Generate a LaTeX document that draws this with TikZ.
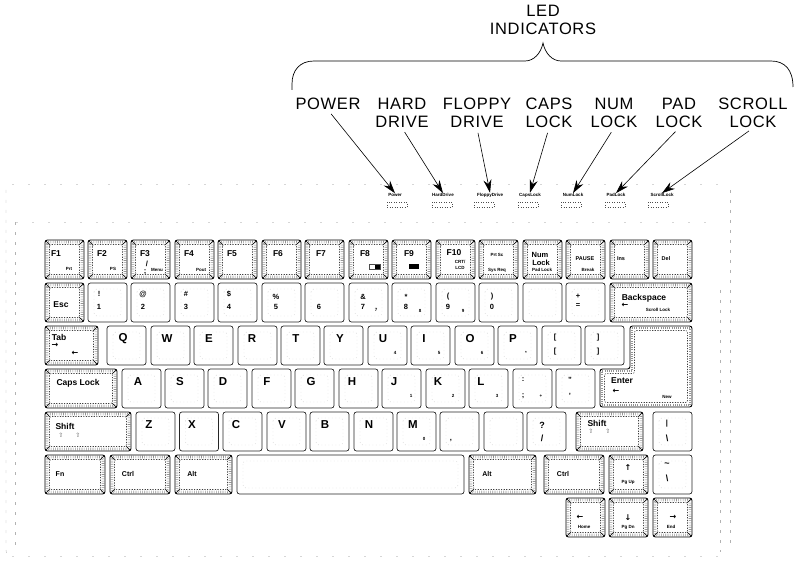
\documentclass[tikz,border=0pt]{standalone}
\usepackage{fontspec}
\setmainfont{Liberation Sans}
\newfontfamily\capsfont[LetterSpace=4]{Liberation Sans}
\newfontfamily\arrowfont{DejaVu Sans}
\usetikzlibrary{arrows.meta}
\tikzset{
  plainkey/.style={draw=black!85,line width=0.7pt,rounded corners=2.5pt,inner sep=0pt,minimum width=39pt,minimum height=39pt,
    path picture={
      \draw[black!18,line width=0.4pt,dash pattern=on 1pt off 2.5pt,rounded corners=3pt] ([shift={(6,6)}]path picture bounding box.north west) rectangle ([shift={(-6,-6)}]path picture bounding box.south east);
    }},
  hatchring/.style={black!42,line width=2.6pt,dash pattern=on 0.6pt off 1.6pt},
  hatchline/.style={black!75,line width=0.6pt,dash pattern=on 1.2pt off 1.4pt,rounded corners=2pt},
  hatchkey/.style={draw=black,line width=0.9pt,rounded corners=2.5pt,inner sep=0pt,minimum width=39pt,minimum height=39pt,
    path picture={
      \draw[hatchring] ([shift={(2,2)}]path picture bounding box.north west) rectangle ([shift={(-2,-2)}]path picture bounding box.south east);
      \draw[hatchline] ([shift={(4.5,4.5)}]path picture bounding box.north west) rectangle ([shift={(-4.5,-4.5)}]path picture bounding box.south east);
      \draw[black,line width=0.5pt] (path picture bounding box.north west) -- ([shift={(5,5)}]path picture bounding box.north west);
      \draw[black,line width=0.5pt] (path picture bounding box.north east) -- ([shift={(-5,5)}]path picture bounding box.north east);
      \draw[black,line width=0.5pt] (path picture bounding box.south west) -- ([shift={(5,-5)}]path picture bounding box.south west);
      \draw[black,line width=0.5pt] (path picture bounding box.south east) -- ([shift={(-5,-5)}]path picture bounding box.south east);
    }},
  toplabel/.style={font=\capsfont\fontsize{16.5}{18}\selectfont,align=center,inner sep=0pt},
  ledtext/.style={font=\bfseries\fontsize{4.5}{5}\selectfont,inner sep=0pt},
  ledbox/.style={draw=black!70,line width=0.5pt,dash pattern=on 1pt off 1.5pt,minimum width=20pt,minimum height=5pt,inner sep=0pt},
  ledarrow/.style={-{Stealth[length=13pt,width=8pt]},line width=0.6pt,shorten <=5pt},
  bodyline/.style={black!30,line width=0.4pt,dash pattern=on 3pt off 7pt},
  bodyfaint/.style={black!16,line width=0.4pt,dash pattern=on 2pt off 14pt},
  keytext/.style={font=\bfseries\fontsize{8.5}{9}\selectfont,inner sep=0pt},
  lettertext/.style={font=\bfseries\fontsize{11.5}{12}\selectfont,inner sep=0pt},
  digittext/.style={font=\bfseries\fontsize{7.5}{8}\selectfont,inner sep=0pt},
  subtext/.style={font=\bfseries\fontsize{4.5}{5}\selectfont,inner sep=0pt},
  glyph/.style={font=\arrowfont\bfseries\fontsize{8}{8}\selectfont,inner sep=0pt},
  shiftglyph/.style={font=\arrowfont\fontsize{6}{7}\selectfont,text=black!60,inner sep=0pt},
}
\begin{document}
\begin{tikzpicture}[x=1pt,y=-1pt]
    \useasboundingbox (0,0) rectangle (807,564);
    % casing
    \draw[bodyline] (6,190) -- (6,550) .. controls (6,554) and (8,556) .. (12,556);
    \draw[bodyline] (730,190) -- (730,550);
    \draw[bodyline] (15,222) -- (15,550);
    \draw[bodyline] (720,290) -- (720,552);
    \draw[bodyfaint] (12,556) -- (726,556);
    \draw[bodyfaint] (12,184) -- (724,184);
    \draw[bodyfaint] (16,222) -- (720,222);
    % indicator heading
    \node (ledhead) at (543,20) [toplabel] {LED\\INDICATORS};
    \draw[line width=0.7pt] (292,90) -- (292,84) .. controls (292,70) and (300,61) .. (314,61) -- (525,61) .. controls (534,61) and (541,53) .. (543,43) .. controls (545,53) and (552,61) .. (561,61) -- (771,61) .. controls (785,61) and (793,70) .. (793,87);
    \node (powerlbl) at (328,104) [toplabel] {POWER};
    \node (hardlbl) at (402,113) [toplabel] {HARD\\DRIVE};
    \node (floppylbl) at (477,113) [toplabel] {FLOPPY\\DRIVE};
    \node (capslbl) at (549,113) [toplabel] {CAPS\\LOCK};
    \node (numlbl) at (614,113) [toplabel] {NUM\\LOCK};
    \node (padlbl) at (679,113) [toplabel] {PAD\\LOCK};
    \node (scrolllbl) at (753,113) [toplabel] {SCROLL\\LOCK};
    \node (powertxt) at (395,195) [ledtext] {Power};
    \node (hardtxt) at (443,195) [ledtext] {HardDrive};
    \node (floppytxt) at (490,195) [ledtext] {FloppyDrive};
    \node (capstxt) at (530,195) [ledtext] {CapsLock};
    \node (numtxt) at (573,195) [ledtext] {NumLock};
    \node (padtxt) at (616,195) [ledtext] {PadLock};
    \node (scrolltxt) at (662,195) [ledtext] {ScrollLock};
    \node (powerled) at (397,205) [ledbox] {};
    \node (hardled) at (442,205) [ledbox] {};
    \node (floppyled) at (484,205) [ledbox] {};
    \node (capsled) at (528,205) [ledbox] {};
    \node (numled) at (571,205) [ledbox] {};
    \node (padled) at (615,205) [ledbox] {};
    \node (scrollled) at (658,205) [ledbox] {};
    \draw[ledarrow] (powerlbl.south) -- (powertxt.north);
    \draw[ledarrow] (hardlbl.south) -- (hardtxt.north);
    \draw[ledarrow] (floppylbl.south) -- (floppytxt.north);
    \draw[ledarrow] (capslbl.south) -- (capstxt.north);
    \draw[ledarrow] (numlbl.south) -- (numtxt.north);
    \draw[ledarrow] (padlbl.south) -- (padtxt.north);
    \draw[ledarrow] (scrolllbl.south) -- (scrolltxt.north);
    % function row
    \node (f1) at (64.5,259.5) [hatchkey] {};
    \node (f2) at (107.5,259.5) [hatchkey] {};
    \node (f3) at (150.5,259.5) [hatchkey] {};
    \node (f4) at (194.5,259.5) [hatchkey] {};
    \node (f5) at (237.5,259.5) [hatchkey] {};
    \node (f6) at (281.5,259.5) [hatchkey] {};
    \node (f7) at (324.5,259.5) [hatchkey] {};
    \node (f8) at (368.5,259.5) [hatchkey] {};
    \node (f9) at (411.5,259.5) [hatchkey] {};
    \node (f10) at (455.5,259.5) [hatchkey] {};
    \node (prt) at (498.5,259.5) [hatchkey] {};
    \node (num) at (542.5,259.5) [hatchkey] {};
    \node (pause) at (585.5,259.5) [hatchkey] {};
    \node (ins) at (629.5,259.5) [hatchkey] {};
    \node (del) at (672.5,259.5) [hatchkey] {};
    \node (f1t) at (56,254) [keytext] {F1};
    \node (f1s) at (69,269) [subtext] {Prt};
    \node (f2t) at (102,254) [keytext] {F2};
    \node (f2s) at (113,269) [subtext] {PS};
    \node (f3t) at (145,254) [keytext] {F3};
    \node (f3a) at (147,264) [digittext] {/};
    \node (f3b) at (145,272) [digittext] {;};
    \node (f3s) at (157,270) [subtext] {Menu};
    \node (f4t) at (189,254) [keytext] {F4};
    \node (f4s) at (201,270) [subtext] {Pout};
    \node (f5t) at (232,254) [keytext] {F5};
    \node (f6t) at (278,254) [keytext] {F6};
    \node (f7t) at (321,254) [keytext] {F7};
    \node (f8t) at (365,254) [keytext] {F8};
    \node (f9t) at (409,254) [keytext] {F9};
    \node (f10t) at (454,253) [keytext] {F10};
    \node (f10a) at (460,262) [subtext] {CRT/};
    \node (f10b) at (460,268) [subtext] {LCD};
    \node (f8box) at (375,267) [draw=black!70,line width=0.5pt,minimum width=11pt,minimum height=5pt,inner sep=0pt,path picture={\fill[black] (path picture bounding box.north) rectangle (path picture bounding box.south east);}] {};
    \node (f9box) at (414,267) [fill=black,minimum width=10pt,minimum height=5pt,inner sep=0pt] {};
    \node (prtt) at (497,255) [subtext] {Prt Sc};
    \node (prts) at (497,270) [subtext] {Sys Req};
    \node (numt) at (540,255) [digittext] {Num};
    \node (numb) at (541,263) [digittext] {Lock};
    \node (nums) at (542,270) [subtext] {Pad Lock};
    \node (pauset) at (585,259) [subtext,font=\bfseries\fontsize{5.5}{6}\selectfont] {PAUSE};
    \node (pauses) at (588,270) [subtext] {Break};
    \node (inst) at (621,259) [subtext,font=\bfseries\fontsize{5.5}{6}\selectfont] {Ins};
    \node (delt) at (666,259) [subtext,font=\bfseries\fontsize{5.5}{6}\selectfont] {Del};
    % number row
    \node (esc) at (64.5,302.5) [hatchkey] {};
    \node (k1) at (107.5,302.5) [plainkey] {};
    \node (k2) at (150.5,302.5) [plainkey] {};
    \node (k3) at (194.5,302.5) [plainkey] {};
    \node (k4) at (237.5,302.5) [plainkey] {};
    \node (k5) at (281.5,302.5) [plainkey] {};
    \node (k6) at (324.5,302.5) [plainkey] {};
    \node (k7) at (368.5,302.5) [plainkey] {};
    \node (k8) at (411.5,302.5) [plainkey] {};
    \node (k9) at (455.5,302.5) [plainkey] {};
    \node (k0) at (498.5,302.5) [plainkey] {};
    \node (minus) at (542.5,302.5) [plainkey] {};
    \node (plus) at (585.5,302.5) [plainkey] {};
    \node (back) at (651,302.5) [hatchkey,minimum width=82pt] {};
    \node (esct) at (61,305) [keytext] {Esc};
    \node (k1a) at (99,294) [digittext] {!};
    \node (k1b) at (99,307) [digittext] {1};
    \node (k2a) at (143,294) [digittext] {@};
    \node (k2b) at (143,307) [digittext] {2};
    \node (k3a) at (186,294) [digittext] {\#};
    \node (k3b) at (186,307) [digittext] {3};
    \node (k4a) at (229,294) [digittext] {\$};
    \node (k4b) at (229,307) [digittext] {4};
    \node (k5a) at (276,297) [digittext] {\%};
    \node (k5b) at (276,307) [digittext] {5};
    \node (k6b) at (319,307) [digittext] {6};
    \node (k7a) at (363,297) [digittext] {\&};
    \node (k7b) at (363,307) [digittext] {7};
    \node (k7s) at (376,310) [subtext] {7};
    \node (k8a) at (406,297) [digittext] {*};
    \node (k8b) at (406,307) [digittext] {8};
    \node (k8s) at (420,311) [subtext] {8};
    \node (k9a) at (448,297) [digittext] {(};
    \node (k9b) at (448,307) [digittext] {9};
    \node (k9s) at (463,311) [subtext] {9};
    \node (k0a) at (492,297) [digittext] {)};
    \node (k0b) at (492,307) [digittext] {0};
    \node (plusa) at (578,296) [digittext] {+};
    \node (plusb) at (578,306) [digittext] {=};
    \node (backt) at (644,298) [keytext] {Backspace};
    \node (backa) at (625,305) [glyph] {←};
    \node (backs) at (658,310) [subtext] {Scroll Lock};
    % top letter row
    \node (tab) at (71.5,345.5) [hatchkey,minimum width=53pt] {};
    \node (q) at (126.5,345.5) [plainkey] {};
    \node (w) at (170.5,345.5) [plainkey] {};
    \node (e) at (213.5,345.5) [plainkey] {};
    \node (r) at (257.5,345.5) [plainkey] {};
    \node (t) at (300.5,345.5) [plainkey] {};
    \node (y) at (343.5,345.5) [plainkey] {};
    \node (u) at (387.5,345.5) [plainkey] {};
    \node (i) at (430.5,345.5) [plainkey] {};
    \node (o) at (474.5,345.5) [plainkey] {};
    \node (p) at (517.5,345.5) [plainkey] {};
    \node (lbrack) at (561.5,345.5) [plainkey] {};
    \node (rbrack) at (604.5,345.5) [plainkey] {};
    \node (tabt) at (59,337) [keytext] {Tab};
    \node (taba) at (55,345) [glyph] {→};
    \node (tabb) at (75,353) [glyph] {←};
    \node (qt) at (123,339) [lettertext] {Q};
    \node (wt) at (167,339) [lettertext] {W};
    \node (et) at (209,339) [lettertext] {E};
    \node (rt) at (252,339) [lettertext] {R};
    \node (tt) at (296,339) [lettertext] {T};
    \node (yt) at (340,339) [lettertext] {Y};
    \node (ut) at (383,339) [lettertext] {U};
    \node (us) at (395,353) [subtext] {4};
    \node (it) at (424,339) [lettertext] {I};
    \node (is) at (439,353) [subtext] {5};
    \node (ot) at (470,339) [lettertext] {O};
    \node (os) at (482,353) [subtext] {6};
    \node (pt) at (513,339) [lettertext] {P};
    \node (ps) at (526,353) [subtext] {*};
    \node (lbracka) at (555,338) [digittext] {[};
    \node (lbrackb) at (555,352) [digittext] {[};
    \node (rbracka) at (598,338) [digittext] {]};
    \node (rbrackb) at (598,352) [digittext] {]};
    % enter key is L shaped
    \draw[black,line width=0.9pt,rounded corners=2.5pt] (630,326) -- (692,326) -- (692,407) -- (600,407) -- (600,369) -- (630,369) -- cycle;
    \draw[hatchring] (632,328) -- (690,328) -- (690,405) -- (602,405) -- (602,371) -- (632,371) -- cycle;
    \draw[hatchline] (634.5,330.5) -- (687.5,330.5) -- (687.5,402.5) -- (604.5,402.5) -- (604.5,373.5) -- (634.5,373.5) -- cycle;
    % home row
    \node (caps) at (81,388.5) [hatchkey,minimum width=72pt] {};
    \node (a) at (141.5,388.5) [plainkey] {};
    \node (s) at (184.5,388.5) [plainkey] {};
    \node (d) at (227.5,388.5) [plainkey] {};
    \node (f) at (271.5,388.5) [plainkey] {};
    \node (g) at (314.5,388.5) [plainkey] {};
    \node (h) at (358.5,388.5) [plainkey] {};
    \node (j) at (401.5,388.5) [plainkey] {};
    \node (k) at (445.5,388.5) [plainkey] {};
    \node (l) at (488.5,388.5) [plainkey] {};
    \node (semi) at (532.5,388.5) [plainkey] {};
    \node (quote) at (575.5,388.5) [plainkey] {};
    \node (capst) at (78,383) [keytext] {Caps Lock};
    \node (at) at (138,382) [lettertext] {A};
    \node (st) at (180,382) [lettertext] {S};
    \node (dt) at (223,382) [lettertext] {D};
    \node (ft) at (267,382) [lettertext] {F};
    \node (gt) at (311,382) [lettertext] {G};
    \node (ht) at (352,382) [lettertext] {H};
    \node (jt) at (394,382) [lettertext] {J};
    \node (js) at (411,396) [subtext] {1};
    \node (kt) at (438,382) [lettertext] {K};
    \node (ks) at (453,396) [subtext] {2};
    \node (lt) at (481,382) [lettertext] {L};
    \node (ls) at (497,396) [subtext] {3};
    \node (semia) at (523,380) [digittext] {:};
    \node (semib) at (523,396) [digittext] {;};
    \node (semis) at (541,396) [subtext] {+};
    \node (quotea) at (570,380) [digittext] {"};
    \node (quoteb) at (570,396) [digittext] {'};
    \node (entert) at (622,381) [keytext] {Enter};
    \node (entera) at (616,391) [glyph] {←};
    \node (enters) at (667,397) [subtext] {New};
    % bottom letter row
    \node (lshift) at (88,431.5) [hatchkey,minimum width=86pt] {};
    \node (z) at (155.5,431.5) [plainkey] {};
    \node (x) at (199,431.5) [plainkey] {};
    \node (c) at (242.5,431.5) [plainkey] {};
    \node (v) at (286.5,431.5) [plainkey] {};
    \node (b) at (329.5,431.5) [plainkey] {};
    \node (n) at (373.5,431.5) [plainkey] {};
    \node (m) at (416.5,431.5) [plainkey] {};
    \node (comma) at (459.5,431.5) [plainkey] {};
    \node (dot) at (503.5,431.5) [plainkey] {};
    \node (slash) at (546.5,431.5) [plainkey] {};
    \node (rshift) at (609.5,431.5) [hatchkey,minimum width=67pt] {};
    \node (bar) at (672.5,431.5) [plainkey] {};
    \node (lshiftt) at (65,426) [keytext] {Shift};
    \node (lshifta) at (61,435) [shiftglyph] {⇧};
    \node (lshiftb) at (78,435) [shiftglyph] {⇧};
    \node (zt) at (149,425) [lettertext] {Z};
    \node (xt) at (192,425) [lettertext] {X};
    \node (ct) at (236,425) [lettertext] {C};
    \node (vt) at (282,425) [lettertext] {V};
    \node (bt) at (325,425) [lettertext] {B};
    \node (nt) at (369,425) [lettertext] {N};
    \node (mt) at (413,425) [lettertext] {M};
    \node (ms) at (424,439) [subtext] {0};
    \node (commat) at (451,441) [digittext] {,};
    \node (slasha) at (542,425) [digittext,font=\bfseries\fontsize{9}{9}\selectfont] {?};
    \node (slashb) at (542,438) [digittext,font=\bfseries\fontsize{9}{9}\selectfont] {/};
    \node (rshiftt) at (597,423) [keytext] {Shift};
    \node (rshifta) at (591,431) [shiftglyph] {⇧};
    \node (rshiftb) at (608,431) [shiftglyph] {⇧};
    \node (bara) at (667,424) [digittext] {|};
    \node (barb) at (667,438) [digittext,font=\bfseries\fontsize{9}{9}\selectfont] {\textbackslash};
    % space row
    \node (fn) at (75,474.5) [hatchkey,minimum width=60pt] {};
    \node (lctrl) at (140,474.5) [hatchkey,minimum width=60pt] {};
    \node (lalt) at (203.5,474.5) [hatchkey,minimum width=57pt] {};
    \node (space) at (350.5,474.5) [plainkey,minimum width=227pt] {};
    \node (ralt) at (502.5,474.5) [hatchkey,minimum width=67pt] {};
    \node (rctrl) at (574,474.5) [hatchkey,minimum width=60pt] {};
    \node (pgup) at (628.5,474.5) [hatchkey] {};
    \node (tilde) at (672.5,474.5) [plainkey] {};
    \node (fnt) at (60,474) [keytext,font=\bfseries\fontsize{7}{8}\selectfont] {Fn};
    \node (lctrlt) at (128,474) [keytext,font=\bfseries\fontsize{7}{8}\selectfont] {Ctrl};
    \node (laltt) at (192,474) [keytext,font=\bfseries\fontsize{7}{8}\selectfont] {Alt};
    \node (raltt) at (487,474) [keytext,font=\bfseries\fontsize{7}{8}\selectfont] {Alt};
    \node (rctrlt) at (563,474) [keytext,font=\bfseries\fontsize{7}{8}\selectfont] {Ctrl};
    \node (pgupa) at (628,468) [glyph] {↑};
    \node (pgupt) at (628,482) [subtext] {Pg Up};
    \node (tildea) at (667,465) [digittext,font=\bfseries\fontsize{9}{9}\selectfont] {\textasciitilde};
    \node (tildeb) at (667,478) [digittext,font=\bfseries\fontsize{9}{9}\selectfont] {\textbackslash};
    % cursor row
    \node (home) at (585.5,517.5) [hatchkey] {};
    \node (pgdn) at (628.5,517.5) [hatchkey] {};
    \node (endkey) at (672.5,517.5) [hatchkey] {};
    \node (homea) at (580,517) [glyph] {←};
    \node (homet) at (584,527) [subtext] {Home};
    \node (pgdna) at (628,518) [glyph] {↓};
    \node (pgdnt) at (628,527) [subtext] {Pg Dn};
    \node (enda) at (673,517) [glyph] {→};
    \node (endt) at (671,527) [subtext] {End};
\end{tikzpicture}
\end{document}
